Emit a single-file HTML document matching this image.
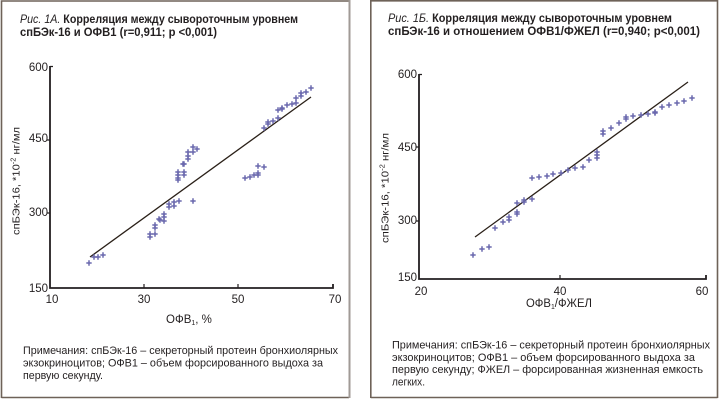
<!DOCTYPE html>
<html><head><meta charset="utf-8"><style>
html,body{margin:0;padding:0;background:#fff;}
svg{display:block;}
text{font-family:"Liberation Sans","DejaVu Sans",sans-serif;fill:#231f20;}
</style></head><body>
<svg width="720" height="400" viewBox="0 0 720 400" xmlns="http://www.w3.org/2000/svg">
<defs>
<path id="p" d="M-2.7 0H2.7M0 -2.7V2.7" stroke="#6a68ad" stroke-width="1.5" fill="none"/>
</defs>
<rect x="0" y="0" width="720" height="400" fill="#fff"/>
<!-- panel borders -->
<path d="M1.5 398V1H349" stroke="#6e6258" stroke-width="1.6" fill="none"/>
<path d="M1.5 397.5H349" stroke="#6e6258" stroke-width="1.6" fill="none"/>
<path d="M349.5 0V398" stroke="#a09a96" stroke-width="2" fill="none"/>
<path d="M370.8 398V0.8H717.5V398M370.8 397.5H717.5" stroke="#6e6258" stroke-width="1.6" fill="none"/>

<!-- LEFT PANEL -->
<text x="20" y="23" font-size="12" font-weight="bold" textLength="278" lengthAdjust="spacingAndGlyphs"><tspan font-style="italic" font-weight="normal">Рис. 1А.</tspan> Корреляция между сывороточным уровнем</text>
<text x="20" y="36" font-size="12" font-weight="bold" textLength="197" lengthAdjust="spacingAndGlyphs">спБЭк-16 и ОФВ1 (r=0,911; p &lt;0,001)</text>

<path d="M50 66V288H333V284" stroke="#231f20" stroke-width="1.8" fill="none"/>
<path d="M50 66.5H53M47 140H50M47 213H50M144 288V284M238 288V284" stroke="#231f20" stroke-width="1.2" fill="none"/>
<g font-size="11.5" text-anchor="end">
<text x="48" y="71">600</text>
<text x="48" y="142">450</text>
<text x="48" y="216">300</text>
<text x="48" y="292">150</text>
</g>
<g font-size="11.5" text-anchor="middle">
<text x="52" y="303">10</text>
<text x="144" y="303">30</text>
<text x="238" y="303">50</text>
<text x="335" y="303">70</text>
</g>
<text x="166" y="323" font-size="11.5">ОФВ<tspan font-size="7" dy="2">1</tspan><tspan dy="-2">, %</tspan></text>
<text transform="translate(19.5,181) rotate(-90)" font-size="10.5" text-anchor="middle" textLength="108" lengthAdjust="spacingAndGlyphs">спБЭк-16, *10<tspan font-size="7" dy="-4">-2</tspan><tspan dy="4"> нг/мл</tspan></text>

<path d="M90 257L311 97" stroke="#2a2018" stroke-width="1.3" fill="none"/>
<g>
<use href="#p" x="89" y="263"/><use href="#p" x="94" y="257"/><use href="#p" x="98" y="257"/><use href="#p" x="103" y="255"/>
<use href="#p" x="150" y="234"/><use href="#p" x="150" y="237"/><use href="#p" x="155" y="234"/><use href="#p" x="155" y="225"/><use href="#p" x="155" y="228"/>
<use href="#p" x="159" y="219"/><use href="#p" x="160" y="220"/><use href="#p" x="164" y="221"/><use href="#p" x="164" y="214"/><use href="#p" x="164" y="217"/>
<use href="#p" x="169" y="204"/><use href="#p" x="169" y="207"/><use href="#p" x="174" y="202"/><use href="#p" x="174" y="206"/><use href="#p" x="179" y="201"/><use href="#p" x="193" y="201"/>
<use href="#p" x="178" y="172"/><use href="#p" x="178" y="175"/><use href="#p" x="178" y="178"/><use href="#p" x="178" y="180"/><use href="#p" x="184" y="172"/><use href="#p" x="184" y="175"/>
<use href="#p" x="183" y="164"/><use href="#p" x="184" y="164"/><use href="#p" x="188" y="159"/><use href="#p" x="188" y="156"/><use href="#p" x="188" y="152"/><use href="#p" x="193" y="147"/><use href="#p" x="193" y="152"/><use href="#p" x="197" y="149"/>
<use href="#p" x="245" y="178"/><use href="#p" x="250" y="177"/><use href="#p" x="254" y="175"/><use href="#p" x="258" y="175"/><use href="#p" x="258" y="173"/><use href="#p" x="258" y="166"/><use href="#p" x="264" y="167"/>
<use href="#p" x="264" y="128"/><use href="#p" x="268" y="124"/><use href="#p" x="268" y="122"/><use href="#p" x="273" y="121"/><use href="#p" x="278" y="118"/><use href="#p" x="278" y="110"/>
<use href="#p" x="282" y="109"/><use href="#p" x="282" y="108"/><use href="#p" x="287" y="105"/><use href="#p" x="292" y="104"/><use href="#p" x="296" y="103"/><use href="#p" x="296" y="98"/>
<use href="#p" x="301" y="96"/><use href="#p" x="301" y="93"/><use href="#p" x="306" y="92"/><use href="#p" x="311" y="88"/>
</g>

<g font-size="11">
<text x="23" y="354" textLength="315" lengthAdjust="spacingAndGlyphs">Примечания: спБЭк-16 – секреторный протеин бронхиолярных</text>
<text x="23" y="366.5" textLength="300" lengthAdjust="spacingAndGlyphs">экзокриноцитов; ОФВ1 –  объем форсированного выдоха за</text>
<text x="23" y="379" textLength="80" lengthAdjust="spacingAndGlyphs">первую секунду.</text>
</g>

<!-- RIGHT PANEL -->
<text x="388" y="22" font-size="12" font-weight="bold" textLength="284" lengthAdjust="spacingAndGlyphs"><tspan font-style="italic" font-weight="normal">Рис. 1Б.</tspan> Корреляция между сывороточным уровнем</text>
<text x="388" y="35" font-size="12" font-weight="bold" textLength="312" lengthAdjust="spacingAndGlyphs">спБЭк-16 и отношением ОФВ1/ФЖЕЛ (r=0,940; p&lt;0,001)</text>

<path d="M419 74V279H706V275" stroke="#231f20" stroke-width="1.8" fill="none"/>
<path d="M419 74.5H422M416 147H419M416 221H419M560 279V275" stroke="#231f20" stroke-width="1.2" fill="none"/>
<g font-size="11.5" text-anchor="end">
<text x="417" y="78">600</text>
<text x="417" y="151">450</text>
<text x="417" y="224">300</text>
<text x="417" y="281">150</text>
</g>
<g font-size="11.5" text-anchor="middle">
<text x="421" y="295">20</text>
<text x="560" y="295">40</text>
<text x="702" y="295">60</text>
</g>
<text x="526" y="307" font-size="11.5" textLength="66" lengthAdjust="spacingAndGlyphs">ОФВ<tspan font-size="7" dy="2">1</tspan><tspan dy="-2">/ФЖЕЛ</tspan></text>
<text transform="translate(388.5,188) rotate(-90)" font-size="10.5" text-anchor="middle" textLength="110" lengthAdjust="spacingAndGlyphs">спБЭк-16, *10<tspan font-size="7" dy="-4">-2</tspan><tspan dy="4"> нг/мл</tspan></text>

<path d="M475 237L688 82" stroke="#2a2018" stroke-width="1.3" fill="none"/>
<g>
<use href="#p" x="473" y="255"/><use href="#p" x="482" y="249"/><use href="#p" x="489" y="247"/><use href="#p" x="495" y="228"/><use href="#p" x="503" y="222"/>
<use href="#p" x="509" y="220"/><use href="#p" x="509" y="217"/><use href="#p" x="517" y="214"/><use href="#p" x="517" y="212"/><use href="#p" x="517" y="203"/>
<use href="#p" x="524" y="202"/><use href="#p" x="524" y="200"/><use href="#p" x="532" y="199"/><use href="#p" x="532" y="178"/><use href="#p" x="539" y="177"/>
<use href="#p" x="547" y="176"/><use href="#p" x="553" y="174"/><use href="#p" x="561" y="173"/><use href="#p" x="568" y="170"/><use href="#p" x="575" y="168"/>
<use href="#p" x="583" y="167"/><use href="#p" x="589" y="160"/><use href="#p" x="597" y="152"/><use href="#p" x="597" y="155"/><use href="#p" x="597" y="158"/>
<use href="#p" x="603" y="131"/><use href="#p" x="603" y="134"/><use href="#p" x="611" y="128"/><use href="#p" x="619" y="123"/><use href="#p" x="626" y="117"/><use href="#p" x="626" y="119"/>
<use href="#p" x="633" y="116"/><use href="#p" x="641" y="115"/><use href="#p" x="648" y="114"/><use href="#p" x="655" y="112"/><use href="#p" x="655" y="113"/>
<use href="#p" x="662" y="107"/><use href="#p" x="669" y="105"/><use href="#p" x="677" y="103"/><use href="#p" x="684" y="101"/><use href="#p" x="692" y="98"/>
</g>

<g font-size="11">
<text x="392" y="348.5" textLength="318" lengthAdjust="spacingAndGlyphs">Примечания: спБЭк-16 – секреторный протеин бронхиолярных</text>
<text x="392" y="361" textLength="303" lengthAdjust="spacingAndGlyphs">экзокриноцитов; ОФВ1 –  объем форсированного выдоха за</text>
<text x="392" y="373" textLength="311" lengthAdjust="spacingAndGlyphs">первую секунду; ФЖЕЛ – форсированная жизненная емкость</text>
<text x="392" y="385.5" textLength="33" lengthAdjust="spacingAndGlyphs">легких.</text>
</g>
</svg>
</body></html>
